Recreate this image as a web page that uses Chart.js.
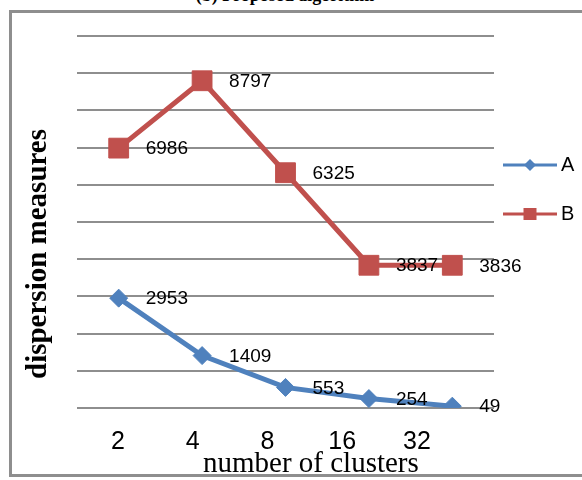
<!DOCTYPE html>
<html>
<head>
<meta charset="utf-8">
<script src="https://cdn.jsdelivr.net/npm/chart.js@4/dist/chart.umd.min.js"></script>
<style>
  html, body { margin: 0; padding: 0; background: #fff; width: 582px; height: 480px; overflow: hidden; }
  #frame { position: absolute; left: 9px; top: 10px; width: 640px; height: 467px; box-sizing: border-box; border: 3px solid #8e8e8e; }
  #topTitle { position: absolute; left: 0; width: 570px; top: -14px; text-align: center; font: bold 18px "Liberation Serif", serif; line-height: 18px; color: #000; white-space: nowrap; }
  #c { position: absolute; left: 0; top: 0; }
</style>
</head>
<body>
<div id="frame"></div>
<div id="topTitle">(b) Proposed algorithm</div>
<canvas id="c" width="582" height="480"></canvas>
<script>
// ---- data ----
const clusterLabels = ['2', '4', '8', '16', '32'];
const seriesNames = ['A', 'B'];
const seriesA = [2953, 1409, 553, 254, 49];
const seriesB = [6986, 8797, 6325, 3837, 3836];
const yTitle = 'dispersion measures';
const xTitle = 'number of clusters';

const blue = '#4f81bd';
const red = '#c0504d';

// legend icon: line with marker; transparent margin on the right shifts the visible part left
function legendIcon(color, shape) {
  const cv = document.createElement('canvas');
  cv.width = 68; cv.height = 14;
  const g = cv.getContext('2d');
  g.fillStyle = color;
  g.fillRect(0, 5.5, 54, 3);
  g.beginPath();
  if (shape === 'diamond') {
    g.moveTo(27 - 6, 7); g.lineTo(27, 1); g.lineTo(27 + 6, 7); g.lineTo(27, 13); g.closePath();
  } else {
    g.rect(27 - 6.5, 1, 13, 12);
  }
  g.fill();
  return cv;
}
const icons = [legendIcon(blue, 'diamond'), legendIcon(red, 'square')];

const valueLabels = {
  id: 'valueLabels',
  afterDatasetsDraw(chart) {
    const ctx = chart.ctx;
    ctx.save();
    ctx.font = '19px "Liberation Sans", sans-serif';
    ctx.fillStyle = '#000';
    ctx.textAlign = 'left';
    ctx.textBaseline = 'middle';
    chart.data.datasets.forEach((ds, i) => {
      chart.getDatasetMeta(i).data.forEach((pt, j) => {
        ctx.fillText(String(ds.data[j]), pt.x + 27, pt.y + 1);
      });
    });
    ctx.restore();
  }
};

new Chart(document.getElementById('c'), {
  type: 'line',
  data: {
    labels: clusterLabels,
    datasets: [
      { label: seriesNames[0], data: seriesA, borderColor: blue, backgroundColor: blue,
        borderWidth: 5, pointStyle: 'rectRot', pointRadius: 9, pointBorderWidth: 1,
        pointBackgroundColor: blue, pointBorderColor: blue, tension: 0, fill: false },
      { label: seriesNames[1], data: seriesB, borderColor: red, backgroundColor: red,
        borderWidth: 5, pointStyle: 'rect', pointRadius: 14, pointBorderWidth: 1,
        pointBackgroundColor: red, pointBorderColor: red, tension: 0, fill: false }
    ]
  },
  options: {
    responsive: false,
    animation: false,
    layout: { padding: { left: 21.6, right: 0, top: 36, bottom: 5.2 } },
    scales: {
      x: { type: 'category', offset: true, display: false },
      xl: {
        type: 'linear', position: 'bottom', min: -0.5485, max: 5.03,
        afterBuildTicks: (s) => { s.ticks = clusterLabels.map((_, i) => ({ value: i })); },
        grid: { display: true, color: 'rgba(0,0,0,0)', drawOnChartArea: false, drawTicks: true, tickLength: 21.5 },
        border: { display: false },
        ticks: {
          autoSkip: false, maxRotation: 0, minRotation: 0, padding: 0,
          color: '#000', font: { family: '"Liberation Sans", sans-serif', size: 25, lineHeight: 1 },
          callback: (v) => clusterLabels[v]
        },
        title: {
          display: true, text: '       ' + xTitle, color: '#000', padding: { top: 0, bottom: 0 },
          font: { family: '"Liberation Serif", serif', size: 29, lineHeight: 0.7 }
        }
      },
      y: {
        min: 0, max: 10000,
        ticks: { stepSize: 1000, display: false },
        grid: { color: '#8e8e8e', lineWidth: 2, drawTicks: false },
        border: { display: false },
        title: {
          display: true, text: '    ' + yTitle, align: 'start', color: '#000',
          padding: { top: 0, bottom: 20.6 },
          font: { family: '"Liberation Serif", serif', size: 29, weight: 'bold' }
        }
      }
    },
    plugins: {
      tooltip: { enabled: false },
      legend: {
        position: 'right', align: 'start', maxWidth: 88,
        title: { display: true, text: ' ', padding: { top: 80, bottom: 0 }, font: { size: 10, lineHeight: 1 } },
        labels: {
          usePointStyle: true, pointStyleWidth: 28, padding: 29,
          color: '#000', font: { family: '"Liberation Sans", sans-serif', size: 20 },
          generateLabels: (chart) => Chart.defaults.plugins.legend.labels.generateLabels(chart)
            .map((it, i) => Object.assign(it, { pointStyle: icons[i] }))
        }
      }
    }
  },
  plugins: [valueLabels]
});
</script>
</body>
</html>
